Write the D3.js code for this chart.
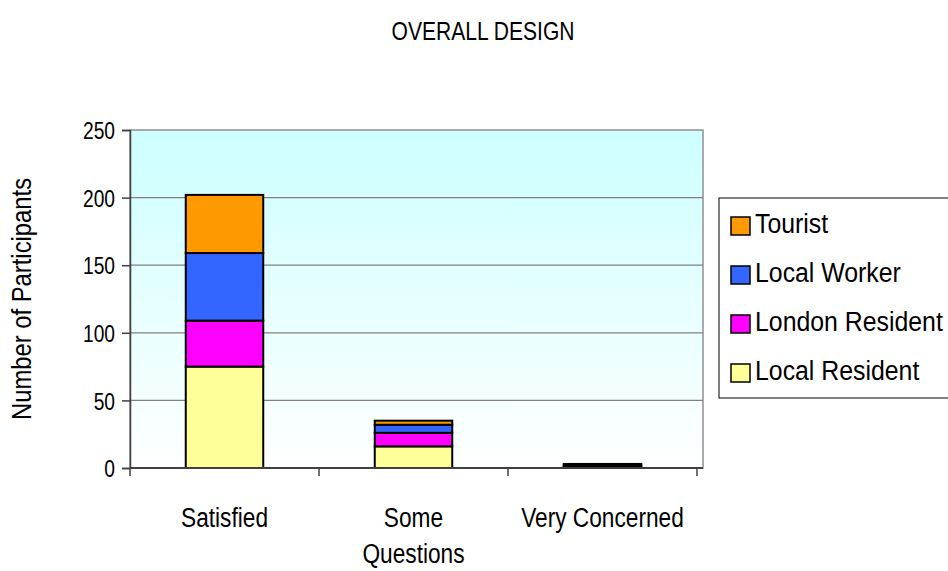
<!DOCTYPE html>
<html><head><meta charset="utf-8">
<script src="https://cdn.jsdelivr.net/npm/d3@7"></script>
<style>body{margin:0;background:#fff;}svg{display:block;font-family:"Liberation Sans",Arial,sans-serif;}</style>
</head><body>
<svg id="c" width="948" height="571"></svg>
<script>
const categories = [["Satisfied"], ["Some", "Questions"], ["Very Concerned"]];
const seriesNames = ["Local Resident", "London Resident", "Local Worker", "Tourist"];
const localResident = [75, 16, 1];
const londonResident = [34, 10, 1];
const localWorker = [50, 6, 1];
const tourist = [43, 3, 0];
const yTicks = [0, 50, 100, 150, 200, 250];
const colors = ["#ffff99", "#ff00ff", "#3366ff", "#ff9900"];

function narrow(sel, f) {
  sel.each(function(){
    const w = this.getComputedTextLength();
    this.setAttribute("textLength", w * f);
    this.setAttribute("lengthAdjust", "spacingAndGlyphs");
  });
}

const svg = d3.select("#c");
const m = {l:130, r:703, t:130, b:468};
const x = d3.scaleBand().domain(d3.range(categories.length)).range([m.l, 697]).paddingInner(0.59).paddingOuter(0.295);
const y = d3.scaleLinear().domain([0, 250]).range([m.b, m.t]);

const defs = svg.append("defs");
const g = defs.append("linearGradient").attr("id","bg").attr("x1",0).attr("y1",0).attr("x2",0).attr("y2",1);
g.append("stop").attr("offset","0%").attr("stop-color","#ccffff");
g.append("stop").attr("offset","100%").attr("stop-color","#ffffff");

svg.append("rect").attr("x",m.l).attr("y",m.t).attr("width",m.r-m.l).attr("height",m.b-m.t)
  .attr("fill","url(#bg)").attr("stroke","#909090").attr("stroke-width",1.5);

// gridlines
svg.append("g").selectAll("line").data(yTicks.filter(d=>d>0&&d<250)).join("line")
  .attr("x1",m.l).attr("x2",m.r).attr("y1",d=>y(d)).attr("y2",d=>y(d))
  .attr("stroke","#808080").attr("stroke-width",1.2);

// bars
const data = categories.map((c,i)=>({i, "Local Resident":localResident[i], "London Resident":londonResident[i], "Local Worker":localWorker[i], "Tourist":tourist[i]}));
const stack = d3.stack().keys(seriesNames)(data);
svg.append("g").selectAll("g").data(stack).join("g").attr("fill",(d,i)=>colors[i])
  .selectAll("rect").data(d=>d).join("rect")
  .attr("x",d=>x(d.data.i)).attr("width",x.bandwidth())
  .attr("y",d=>y(d[1])).attr("height",d=>y(d[0])-y(d[1]))
  .attr("stroke","#000").attr("stroke-width",2);

// y axis
const ya = svg.append("g").attr("transform",`translate(${m.l},0)`)
  .call(d3.axisLeft(y).tickValues(yTicks).tickSize(8).tickPadding(7));
ya.select(".domain").attr("stroke","#404040").attr("stroke-width",1.5);
ya.selectAll(".tick line").attr("stroke","#404040").attr("stroke-width",1.5);
ya.selectAll("text").attr("font-size",24).attr("fill","#000").attr("dy","0.36em");
narrow(ya.selectAll("text"), 0.8);

// x axis
const xa = svg.append("g").attr("transform",`translate(0,${m.b})`);
xa.append("line").attr("x1",m.l).attr("x2",m.r).attr("stroke","#404040").attr("stroke-width",2);
const st = x.step();
const bounds = d3.range(categories.length+1).map(i => x.range()[0] + i*st);
xa.selectAll("line.t").data(bounds).join("line").attr("class","t")
  .attr("x1",d=>d).attr("x2",d=>d).attr("y1",0).attr("y2",8).attr("stroke","#404040").attr("stroke-width",1.5);
const lines = [];
categories.forEach((c,i)=>c.forEach((s,j)=>lines.push({i,j,s})));
const lab = xa.selectAll("text").data(lines).join("text")
  .attr("x",d=>x(d.i)+x.bandwidth()/2).attr("y",d=>59+d.j*36).attr("text-anchor","middle")
  .attr("font-size",27).attr("fill","#000").text(d=>d.s);
narrow(lab, 0.84);

// y title
const yt = svg.append("text").attr("transform","translate(31,299) rotate(-90)").attr("text-anchor","middle")
  .attr("font-size",28).text("Number of Participants");
narrow(yt, 0.85);

// title
const tt = svg.append("text").attr("x",483).attr("y",40).attr("text-anchor","middle").attr("font-size",26).text("OVERALL DESIGN");
narrow(tt, 0.81);

// legend
const lg = svg.append("g");
lg.append("rect").attr("x",719).attr("y",198).attr("width",240).attr("height",200).attr("fill","#fff").attr("stroke","#000").attr("stroke-width",1);
const legOrder = [3,2,1,0];
lg.selectAll("g.it").data(legOrder).join("g").attr("class","it")
  .attr("transform",(d,k)=>`translate(731,${233+k*49})`)
  .each(function(si){
    const it = d3.select(this);
    it.append("rect").attr("x",0).attr("y",-16).attr("width",19).attr("height",18).attr("fill",colors[si]).attr("stroke","#000").attr("stroke-width",1.5);
    const t = it.append("text").attr("x",24).attr("y",0).attr("font-size",27).text(seriesNames[si]);
    narrow(t, 0.92);
  });
</script>
</body></html>
